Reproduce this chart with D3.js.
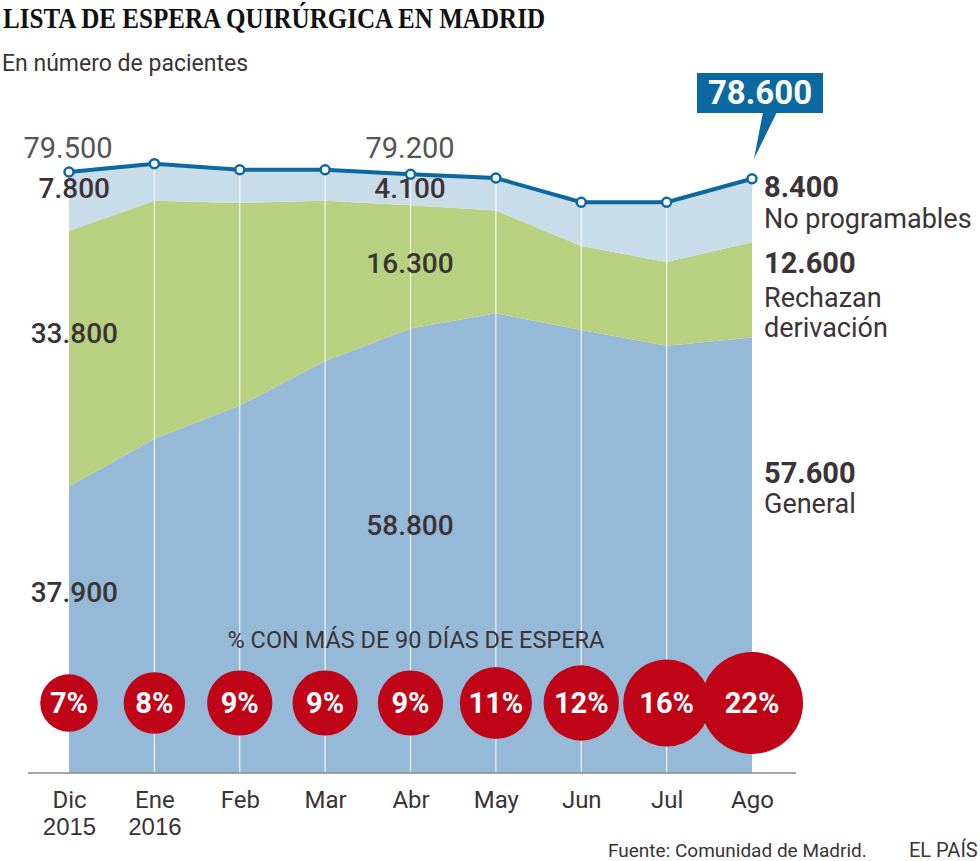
<!DOCTYPE html>
<html>
<head>
<meta charset="utf-8">
<script src="https://cdn.jsdelivr.net/npm/d3@7"></script>
<style>
  body { margin: 0; background: #fff; }
  svg { display: block; font-family: Roboto, "Noto Sans", sans-serif; }
</style>
</head>
<body>
<div id="chart"></div>
<script>
var months = ["Dic", "Ene", "Feb", "Mar", "Abr", "May", "Jun", "Jul", "Ago"];
var years = ["2015", "2016", "", "", "", "", "", "", ""];
var general = [37900, 44200, 48600, 54500, 58800, 60800, 58600, 56500, 57600];
var rechazan = [33800, 31500, 26800, 21200, 16300, 13600, 11100, 11100, 12600];
var noProg = [7800, 4900, 4400, 4100, 4100, 4300, 5800, 7900, 8400];
var pct = [7, 8, 9, 9, 9, 11, 12, 16, 22];

var width = 980;
var height = 861;
var dark = "#3b3336";
var lineBlue = "#0b68a0";

var rows = months.map((m, i) => ({
  month: m,
  general: general[i],
  rechazan: rechazan[i],
  noProg: noProg[i],
  total: general[i] + rechazan[i] + noProg[i]
}));

var svg = d3.select("#chart")
  .append("svg")
  .attr("width", width)
  .attr("height", height);

var x = d3.scalePoint().domain(months).range([69, 752]);
var y = d3.scaleLinear().domain([0, 80000]).range([773, 168.2]);
var r = d3.scaleSqrt().domain([0, 22]).range([0, 51]);

var keys = ["general", "rechazan", "noProg"];
var fills = { general: "#95b9d6", rechazan: "#b8d180", noProg: "#c9dcea" };
var series = d3.stack().keys(keys)(rows);

var area = d3.area()
  .x(d => x(d.data.month))
  .y0(d => y(d[0]))
  .y1(d => y(d[1]));

svg.append("g")
  .selectAll("path")
  .data(series)
  .enter()
  .append("path")
  .attr("d", area)
  .attr("fill", d => fills[d.key]);

/* white month guides */
svg.append("g")
  .selectAll("line")
  .data(rows.slice(1, -1))
  .enter()
  .append("line")
  .attr("x1", d => x(d.month))
  .attr("x2", d => x(d.month))
  .attr("y1", d => y(d.total))
  .attr("y2", y(0))
  .attr("stroke", "#fff")
  .attr("stroke-opacity", 0.85)
  .attr("stroke-width", 1.2);

/* baseline */
svg.append("line")
  .attr("x1", 28).attr("x2", 796)
  .attr("y1", y(0)).attr("y2", y(0))
  .attr("stroke", "#8a8a8a")
  .attr("stroke-width", 1.5);

/* x axis */
var xAxis = svg.append("g")
  .attr("transform", "translate(0," + y(0) + ")")
  .call(d3.axisBottom(x).tickSize(0).tickPadding(18));
xAxis.select(".domain").remove();
xAxis.selectAll("text")
  .style("font-size", "24px")
  .style("font-family", "Roboto, sans-serif")
  .attr("fill", dark);
xAxis.selectAll(".tick")
  .append("text")
  .attr("y", 62)
  .attr("text-anchor", "middle")
  .style("font-size", "24px")
  .attr("fill", dark)
  .text((d, i) => years[i]);

/* total line */
var line = d3.line()
  .x(d => x(d.month))
  .y(d => y(d.total));

svg.append("path")
  .datum(rows)
  .attr("d", line)
  .attr("fill", "none")
  .attr("stroke", lineBlue)
  .attr("stroke-width", 4);

svg.append("g")
  .selectAll("circle")
  .data(rows)
  .enter()
  .append("circle")
  .attr("cx", d => x(d.month))
  .attr("cy", d => y(d.total))
  .attr("r", 4.5)
  .attr("fill", "#fff")
  .attr("stroke", lineBlue)
  .attr("stroke-width", 2.5);

/* bubbles */
svg.append("text")
  .attr("x", 416)
  .attr("y", 648)
  .attr("text-anchor", "middle")
  .style("font-size", "23.5px")
  .attr("fill", dark)
  .text("% CON MÁS DE 90 DÍAS DE ESPERA");

var bub = svg.append("g")
  .selectAll("g")
  .data(rows)
  .enter()
  .append("g")
  .attr("transform", (d, i) => "translate(" + x(d.month) + ",703)");
bub.append("circle")
  .attr("r", (d, i) => r(pct[i]))
  .attr("fill", "#c00418");
bub.append("text")
  .attr("text-anchor", "middle")
  .attr("dy", "0.36em")
  .style("font-size", "29px")
  .style("font-weight", "bold")
  .attr("fill", "#fff")
  .text((d, i) => pct[i] + "%");

/* value labels inside the chart */
function label(txt, px, py, anchor, weight, color, size) {
  svg.append("text")
    .attr("x", px).attr("y", py)
    .attr("text-anchor", anchor)
    .style("font-size", (size || 28) + "px")
    .style("font-weight", weight)
    .attr("fill", color)
    .text(txt);
}
var fmt = v => d3.format(",")(v).replace(/,/g, ".");

label(fmt(rows[0].total), 68, 158, "middle", "normal", "#555", 29);
label(fmt(noProg[0]), 110, 198, "end", 500, dark);
label(fmt(rechazan[0]), 118, 343, "end", 500, dark);
label(fmt(general[0]), 118, 602, "end", 500, dark);
label(fmt(rows[4].total), 410, 158, "middle", "normal", "#555", 29);
label(fmt(noProg[4]), 410, 198, "middle", 500, dark);
label(fmt(rechazan[4]), 410, 273, "middle", 500, dark);
label(fmt(general[4]), 410, 535, "middle", 500, dark);

/* right side legend */
label(fmt(noProg[8]), 764, 197, "start", "bold", dark, 29);
label("No programables", 764, 228, "start", "normal", dark, 27);
label(fmt(rechazan[8]), 764, 273, "start", "bold", dark, 29);
label("Rechazan", 764, 307, "start", "normal", dark, 27);
label("derivación", 764, 337, "start", "normal", dark, 27);
label(fmt(general[8]), 764, 483, "start", "bold", dark, 29);
label("General", 764, 513, "start", "normal", dark, 27);

/* callout */
svg.append("path")
  .attr("d", "M763,112 L777,112 L" + (x("Ago") + 2) + "," + (y(rows[8].total) - 20) + " Z")
  .attr("fill", lineBlue);
svg.append("rect")
  .attr("x", 697).attr("y", 73)
  .attr("width", 126).attr("height", 40)
  .attr("fill", lineBlue);
svg.append("text")
  .attr("x", 760).attr("y", 104)
  .attr("text-anchor", "middle")
  .style("font-size", "33px")
  .style("font-weight", "bold")
  .attr("fill", "#fff")
  .text(fmt(rows[8].total));

/* titles */
svg.append("text")
  .attr("x", 3).attr("y", 28)
  .style("font-family", "'Liberation Serif', 'DejaVu Serif', serif")
  .style("font-size", "30px")
  .style("font-weight", "bold")
  .attr("fill", "#111")
  .attr("textLength", 542)
  .attr("lengthAdjust", "spacingAndGlyphs")
  .text("LISTA DE ESPERA QUIRÚRGICA EN MADRID");

svg.append("text")
  .attr("x", 2).attr("y", 71)
  .style("font-size", "23px")
  .attr("fill", dark)
  .text("En número de pacientes");

svg.append("text")
  .attr("x", 608).attr("y", 857)
  .style("font-size", "19px")
  .attr("fill", dark)
  .text("Fuente: Comunidad de Madrid.");
svg.append("text")
  .attr("x", 909).attr("y", 857)
  .style("font-size", "20px")
  .attr("fill", dark)
  .text("EL PAÍS");
</script>
</body>
</html>
